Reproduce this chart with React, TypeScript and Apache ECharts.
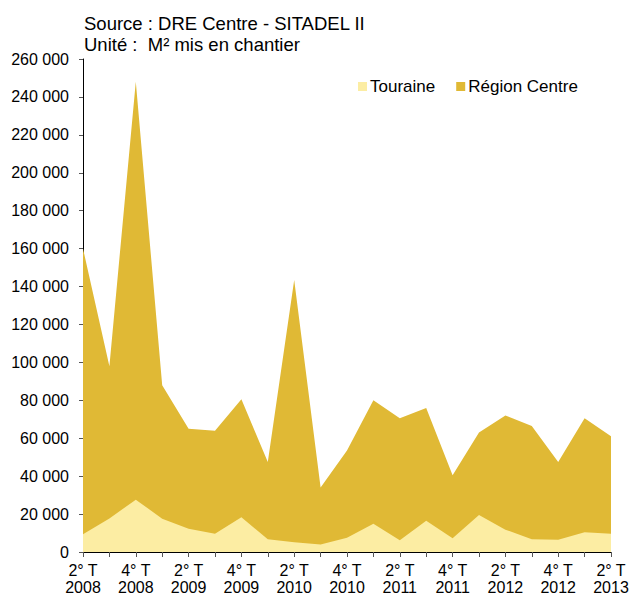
import React, { useEffect, useRef } from "react";
import * as echarts from "echarts";

const quarters = [
  "2° T\n2008", "3° T\n2008", "4° T\n2008", "1° T\n2009", "2° T\n2009", "3° T\n2009", "4° T\n2009",
  "1° T\n2010", "2° T\n2010", "3° T\n2010", "4° T\n2010", "1° T\n2011", "2° T\n2011", "3° T\n2011",
  "4° T\n2011", "1° T\n2012", "2° T\n2012", "3° T\n2012", "4° T\n2012", "1° T\n2013", "2° T\n2013",
];
const regionCentre = [
  160000, 98000, 248000, 88000, 65000, 64000, 80500, 47500, 143500, 34000, 53500,
  80000, 70500, 76000, 40500, 63000, 72000, 66500, 47500, 70500, 61000,
];
const touraine = [
  9300, 17700, 27600, 17600, 12300, 9600, 18300, 6700, 5100, 3900, 7500,
  14900, 6200, 16500, 7200, 19500, 11800, 6700, 6500, 10400, 9600,
];
const titleLines = ["Source : DRE Centre - SITADEL II", "Unité :  M² mis en chantier"];

const FONT = "Liberation Sans, Arial, sans-serif";
const DARK = "#E0B935";
const LIGHT = "#FCEDA3";

export default function App() {
  const ref = useRef<HTMLDivElement>(null);
  useEffect(() => {
    if (!ref.current) return;
    const chart = echarts.init(ref.current, undefined, { renderer: "svg" });
    chart.setOption({
      animation: false,
      textStyle: { fontFamily: FONT },
      title: {
        text: titleLines.join("\n"),
        left: 79,
        top: 8,
        textStyle: { fontFamily: FONT, fontSize: 18.5, fontWeight: "normal", color: "#000", lineHeight: 21 },
      },
      legend: {
        data: ["Touraine", "Région Centre"],
        left: 353,
        top: 73,
        itemWidth: 9,
        itemHeight: 9,
        itemGap: 21,
        icon: "rect",
        textStyle: { fontFamily: FONT, fontSize: 17, color: "#000", padding: [0, 0, 0, -2] },
      },
      grid: { left: 83, right: 18, top: 59, bottom: 44, containLabel: false, outerBoundsMode: "none" },
      xAxis: {
        type: "category",
        data: quarters,
        boundaryGap: false,
        axisLine: { lineStyle: { color: "#000", width: 1 } },
        axisTick: { show: true, interval: 0, length: 5, lineStyle: { color: "#555" } },
        axisLabel: {
          interval: 1,
          fontFamily: FONT,
          fontSize: 16,
          color: "#000",
          lineHeight: 17,
          margin: 10,
        },
        splitLine: { show: false },
      },
      yAxis: {
        type: "value",
        min: 0,
        max: 260000,
        interval: 20000,
        axisLine: { show: true, lineStyle: { color: "#000", width: 1 } },
        axisTick: { show: true, length: 4, lineStyle: { color: "#555" } },
        axisLabel: {
          fontFamily: FONT,
          fontSize: 16,
          color: "#000",
          margin: 14,
          formatter: (v: number) => String(v).replace(/\B(?=(\d{3})+(?!\d))/g, " "),
        },
        splitLine: { show: false },
      },
      series: [
        {
          name: "Région Centre",
          type: "line",
          data: regionCentre,
          symbol: "none",
          lineStyle: { width: 0 },
          itemStyle: { color: DARK },
          areaStyle: { color: DARK, opacity: 1 },
          z: 1,
        },
        {
          name: "Touraine",
          type: "line",
          data: touraine,
          symbol: "none",
          lineStyle: { width: 0 },
          itemStyle: { color: LIGHT },
          areaStyle: { color: LIGHT, opacity: 1 },
          z: 2,
        },
      ],
    });
    return () => chart.dispose();
  }, []);
  return <div ref={ref} style={{ position: "absolute", left: 0, top: 0, width: 629, height: 596 }} />;
}
